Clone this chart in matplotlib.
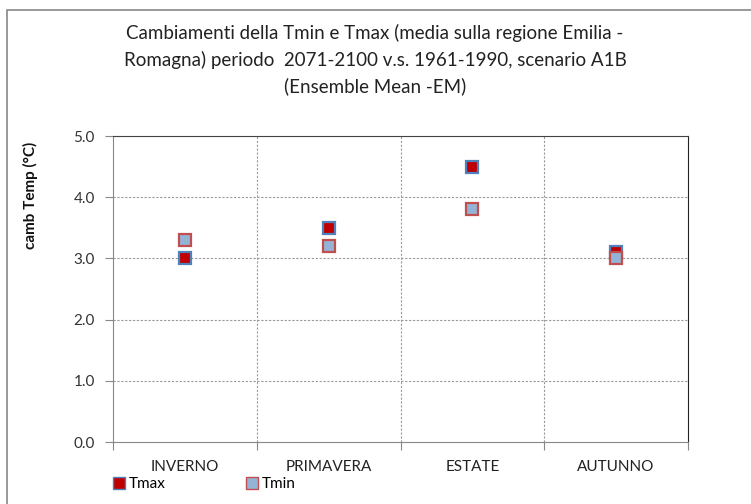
import matplotlib
matplotlib.use("Agg")
import matplotlib.pyplot as plt
from matplotlib.patches import Rectangle
from matplotlib.lines import Line2D

categories = ["INVERNO", "PRIMAVERA", "ESTATE", "AUTUNNO"]
tmax = [3.0, 3.5, 4.5, 3.1]
tmin = [3.3, 3.2, 3.8, 3.0]
yticks = [0.0, 1.0, 2.0, 3.0, 4.0, 5.0]

plt.rcParams['font.family'] = ['Lato', 'DejaVu Sans']

W, H = 751, 504
fig = plt.figure(figsize=(W/100, H/100), dpi=100)
fig.patch.set_facecolor('white')

# outer chart frame
fig.patches.append(Rectangle((7/W, -0.05), 1.0, (H-10)/H + 0.05, transform=fig.transFigure,
                             fill=False, edgecolor='#888888', linewidth=1.2))

L, R, T, B = 113, 688, 136, 442
ax = fig.add_axes([L/W, 1 - B/H, (R-L)/W, (B-T)/H])

x = list(range(len(categories)))
ax.plot(x, tmax, linestyle='none', marker='s', markersize=8.5,
        markerfacecolor='#C00000', markeredgecolor='#4F81BD', markeredgewidth=1.6,
        label='Tmax', zorder=3)
ax.plot(x, tmin, linestyle='none', marker='s', markersize=8.5,
        markerfacecolor='#95B3D7', markeredgecolor='#C0504D', markeredgewidth=1.6,
        label='Tmin', zorder=4)

ax.set_xlim(-0.5, len(categories) - 0.5)
ax.set_ylim(0, 5)
ax.set_yticks(yticks)
ax.set_yticklabels([f"{v:.1f}" for v in yticks], fontsize=11, color='#333333')

# category labels centred, ticks at boundaries
ax.set_xticks([i + 0.5 for i in range(-1, len(categories))], minor=False)
ax.set_xticklabels([])
ax.set_xticks(x, minor=True)
ax.set_xticklabels(categories, minor=True, fontsize=11, color='#222222')
ax.tick_params(axis='x', which='minor', length=0, pad=13)
ax.tick_params(axis='x', which='major', length=6, color='#888888', direction='out')
ax.tick_params(axis='y', length=6, color='#888888', direction='out', pad=7)

for v in yticks[1:]:
    ax.axhline(v, color='#999999', linestyle=(0, (2, 1.5)), linewidth=0.8, zorder=1)
for b in [0.5, 1.5, 2.5]:
    ax.axvline(b, color='#999999', linestyle=(0, (2, 1.5)), linewidth=0.8, zorder=1)

ax.spines['left'].set_color('#888888')
ax.spines['bottom'].set_color('#888888')
ax.spines['right'].set_color('#222222')
ax.spines['top'].set_color('#444444')
ax.spines['top'].set_linestyle((0, (2, 1)))

fig.text(30/W, 1 - 195/H, 'camb Temp (°C)', rotation=90, ha='center', va='center',
         fontsize=11, fontweight='bold', color='#111111')

fig.text(375/W, 1 - 24/H,
         "Cambiamenti della Tmin e Tmax (media sulla regione Emilia -\n"
         "Romagna) periodo  2071-2100 v.s. 1961-1990, scenario A1B\n"
         "(Ensemble Mean -EM)",
         ha='center', va='top', fontsize=13.5, linespacing=1.58, color='#222222')

handles = [Line2D([], [], linestyle='none', marker='s', markersize=9,
                  markerfacecolor='#C00000', markeredgecolor='#4F81BD', markeredgewidth=1),
           Line2D([], [], linestyle='none', marker='s', markersize=9,
                  markerfacecolor='#95B3D7', markeredgecolor='#C0504D', markeredgewidth=1)]
fig.legend(handles, ['Tmax', 'Tmin'], loc='center left',
           bbox_to_anchor=(113/W, 1 - 484/H), ncol=2, frameon=False,
           fontsize=11, handlelength=0.8, handletextpad=0.2, columnspacing=5.3,
           borderaxespad=0, borderpad=0)

fig.savefig('out.png', dpi=100, facecolor='white')
